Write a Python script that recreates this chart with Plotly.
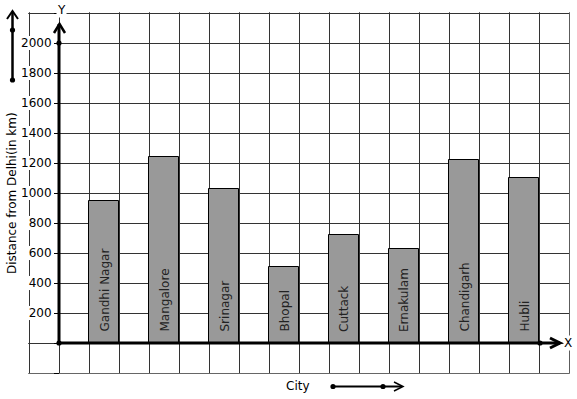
import plotly.graph_objects as go

# ---- data ----
cities = ["Gandhi Nagar", "Mangalore", "Srinagar", "Bhopal",
          "Cuttack", "Ernakulam", "Chandigarh", "Hubli"]
distance_km = [950, 1240, 1030, 510, 720, 630, 1220, 1100]
y_tick_labels = [200, 400, 600, 800, 1000, 1200, 1400, 1600, 1800, 2000]
y_title = "Distance from Delhi(in km)"
x_title = "City"

# ---- layout geometry (pixels) ----
W, H = 577, 399
GL, GT, GW, GH = 29, 13, 540, 360      # grid box
PAD = 2                                # plot area a bit larger than grid box
ML, MT = GL - PAD, GT - PAD
PW, PH = GW + 2 * PAD, GH + 2 * PAD
MR, MB = W - ML - PW, H - MT - PH
GX = [-1, 17]          # grid x extent (columns)
GY = [-200, 2200]      # grid y extent
XU = GW / (GX[1] - GX[0])   # px per x unit
YU = GH / (GY[1] - GY[0])   # px per y unit
X_RANGE = [GX[0] - PAD / XU, GX[1] + PAD / XU]
Y_RANGE = [GY[0] - PAD / YU, GY[1] + PAD / YU]
FONT = "DejaVu Sans"
GRID = "#333333"

def xd(px):  # pixel -> x data
    return GX[0] + (px - GL) / XU

def yd(py):  # pixel -> y data
    return GY[0] + (GT + GH - py) / YU

def xp(px):  # pixel -> paper x
    return (px - ML) / PW

def yp(py):  # pixel -> paper y
    return (MT + PH - py) / PH

# bar positions: one category every second grid column, starting at column 1
bar_x = [1.5 + 2 * i for i in range(len(cities))]

fig = go.Figure()
fig.add_trace(go.Bar(
    x=bar_x, y=distance_km, width=1,
    marker=dict(color="#999999", line=dict(color="#000000", width=1)),
    hoverinfo="text", hovertext=cities, showlegend=False,
))

# tick values for grid + labels
grid_vals = list(range(GY[0], GY[1] + 1, 200))
tick_text = [str(v) if v in y_tick_labels else "" for v in grid_vals]

shapes = []
# white boxes behind the tick labels (cover grid lines)
for v in y_tick_labels:
    n = len(str(v))
    right = 54
    left = right - n * 7.7 - 5
    shapes.append(dict(type="rect", xref="x", yref="y", layer="between",
                       x0=xd(left), x1=xd(right), y0=v - 47, y1=v + 47,
                       fillcolor="white", line=dict(width=0)))
# hide the small grid overhang outside the grid box
edge = dict(type="rect", xref="x", yref="y", layer="between",
            fillcolor="white", line=dict(width=0))
shapes.append({**edge, "x0": xd(25), "x1": xd(28.2), "y0": yd(400), "y1": yd(0)})
shapes.append({**edge, "x0": xd(569.8), "x1": xd(575), "y0": yd(400), "y1": yd(0)})
shapes.append({**edge, "x0": xd(20), "x1": xd(575), "y0": yd(12.2), "y1": yd(5)})
shapes.append({**edge, "x0": xd(20), "x1": xd(575), "y0": yd(380), "y1": yd(373.8)})

# main axes (thick black)
x_end = xd(560)
y_end = yd(24)
shapes.append(dict(type="line", xref="x", yref="y", x0=0, y0=0, x1=x_end, y1=0,
                   line=dict(color="black", width=3)))
shapes.append(dict(type="line", xref="x", yref="y", x0=0, y0=0, x1=0, y1=y_end,
                   line=dict(color="black", width=3)))
# arrow heads
shapes.append(dict(type="path", xref="paper", yref="paper",
                   path=f"M {xp(550)} {yp(338)} L {xp(560)} {yp(343)} L {xp(550)} {yp(348)}",
                   line=dict(color="black", width=3)))
shapes.append(dict(type="path", xref="paper", yref="paper",
                   path=f"M {xp(54)} {yp(33)} L {xp(59.5)} {yp(24)} L {xp(65)} {yp(33)}",
                   line=dict(color="black", width=2.5)))

# decorative arrows outside the grid
shapes.append(dict(type="line", xref="paper", yref="paper",
                   x0=xp(12.5), y0=yp(80), x1=xp(12.5), y1=yp(12),
                   line=dict(color="black", width=2.5)))
shapes.append(dict(type="path", xref="paper", yref="paper",
                   path=f"M {xp(7)} {yp(19)} L {xp(12.5)} {yp(11)} L {xp(18)} {yp(19)}",
                   line=dict(color="black", width=2)))
shapes.append(dict(type="line", xref="paper", yref="paper",
                   x0=xp(333), y0=yp(386.5), x1=xp(402), y1=yp(386.5),
                   line=dict(color="black", width=2)))
shapes.append(dict(type="path", xref="paper", yref="paper",
                   path=f"M {xp(394)} {yp(382)} L {xp(403)} {yp(386.5)} L {xp(394)} {yp(391)}",
                   line=dict(color="black", width=1.5)))

# dots
def dot(xr, yr, xa, ya, r=2.6):
    return dict(type="circle", xref=xr, yref=yr, xsizemode="pixel", ysizemode="pixel",
                xanchor=xa, yanchor=ya, x0=-r, x1=r, y0=-r, y1=r,
                fillcolor="black", line=dict(color="black", width=0))

shapes.append(dot("x", "y", 0, 0))
shapes.append(dot("x", "y", 0, 2000))
shapes.append(dot("x", "y", xd(540), 0))
shapes.append(dot("paper", "paper", xp(12.5), yp(30)))
shapes.append(dot("paper", "paper", xp(12.5), yp(80)))
shapes.append(dot("paper", "paper", xp(333), yp(386.5)))
shapes.append(dot("paper", "paper", xp(383), yp(386.5)))

annotations = []
# category names inside the bars
for x, name in zip(bar_x, cities):
    annotations.append(dict(x=x, y=0, xref="x", yref="y", text=name,
                            textangle=-90, showarrow=False, xanchor="center",
                            yanchor="bottom", yshift=9,
                            font=dict(family=FONT, size=12, color="#222222")))
# axis letters
annotations.append(dict(x=xp(61.5), y=yp(10), xref="paper", yref="paper", text="Y",
                        xanchor="center", yanchor="middle",
                        showarrow=False, bgcolor="white", borderpad=0,
                        font=dict(family=FONT, size=12, color="black")))
annotations.append(dict(x=xp(568), y=yp(343), xref="paper", yref="paper", text="X",
                        xanchor="center", yanchor="middle",
                        showarrow=False, bgcolor="white", borderpad=0,
                        font=dict(family=FONT, size=12, color="black")))
# axis titles
annotations.append(dict(x=xp(12), y=yp(193), xref="paper", yref="paper", text=y_title,
                        xanchor="center", yanchor="middle",
                        textangle=-90, showarrow=False,
                        font=dict(family=FONT, size=12, color="black")))
annotations.append(dict(x=xp(298), y=yp(386), xref="paper", yref="paper", text=x_title,
                        xanchor="center", yanchor="middle",
                        showarrow=False,
                        font=dict(family=FONT, size=12, color="black")))

fig.update_layout(
    width=W, height=H,
    margin=dict(l=ML, r=MR, t=MT, b=MB, pad=0, autoexpand=False),
    paper_bgcolor="white", plot_bgcolor="white",
    font=dict(family=FONT, size=12, color="black"),
    xaxis=dict(range=X_RANGE, dtick=1, tick0=0,
               showgrid=True, gridcolor=GRID, gridwidth=1, automargin=False,
               zeroline=False, showticklabels=False, ticks="", showline=False,
               fixedrange=True),
    yaxis=dict(range=Y_RANGE, tickmode="array",
               tickvals=grid_vals, ticktext=tick_text,
               anchor="free", position=xp(59), automargin=False,
               showgrid=True, gridcolor=GRID, gridwidth=1,
               zeroline=False, showline=False,
               ticks="outside", ticklen=5, tickwidth=1, tickcolor="black",
               tickfont=dict(family=FONT, size=12, color="black"),
               fixedrange=True),
    shapes=shapes,
    annotations=annotations,
    bargap=0,
)

fig.write_html("out.html", config={"displayModeBar": False},
               post_script="document.body.style.margin='0';document.body.style.overflow='hidden';")
